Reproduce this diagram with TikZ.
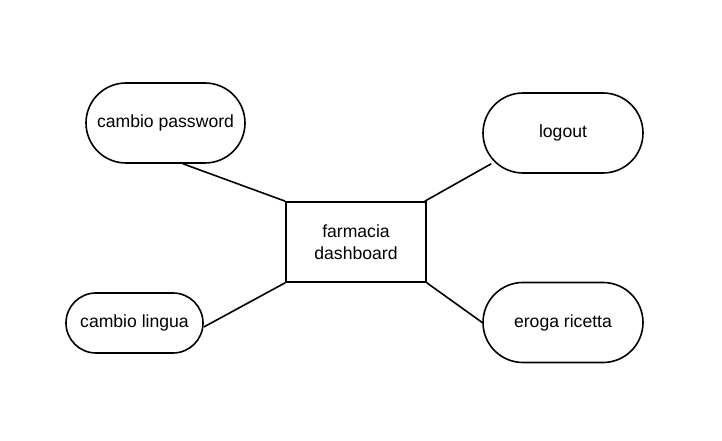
\documentclass[tikz,border=0pt]{standalone}
\usepackage{fontspec}
\setmainfont{Liberation Sans}
\usetikzlibrary{calc}
\begin{document}
\begin{tikzpicture}[x=0.75pt,y=-0.75pt,
  every node/.style={font=\fontsize{13.2}{16.5}\selectfont, align=center, inner sep=0pt},
  stad/.style={draw, line width=1.2pt, rectangle, rounded corners=#1},
  box/.style={draw, line width=1.2pt, rectangle},
  conn/.style={line width=1.2pt}]
\useasboundingbox (0,0) rectangle (722,441);
\node[stad=30pt, minimum width=119.25pt, minimum height=60pt] (pw) at (165.5,123) {cambio password};
\node[stad=30pt, minimum width=120pt, minimum height=60pt] (lo) at (563,133) {logout};
\node[stad=22.5pt, minimum width=102.75pt, minimum height=45pt] (li) at (134.5,323) {cambio lingua};
\node[stad=30pt, minimum width=120pt, minimum height=60pt] (er) at (563,322.5) {eroga ricetta};
\node[box, minimum width=105pt, minimum height=60pt] (dash) at (356,242) {farmacia\\dashboard};
\draw[conn] ($(pw.south)+(17.5,0)$) -- (dash.north west);
\draw[conn] ($(lo.south west)+(9,-10)$) -- ($(dash.north east)+(-2,0)$);
\draw[conn] ($(li.east)+(0,4)$) -- (dash.south west);
\draw[conn] (er.west) -- (dash.south east);
\end{tikzpicture}
\end{document}
